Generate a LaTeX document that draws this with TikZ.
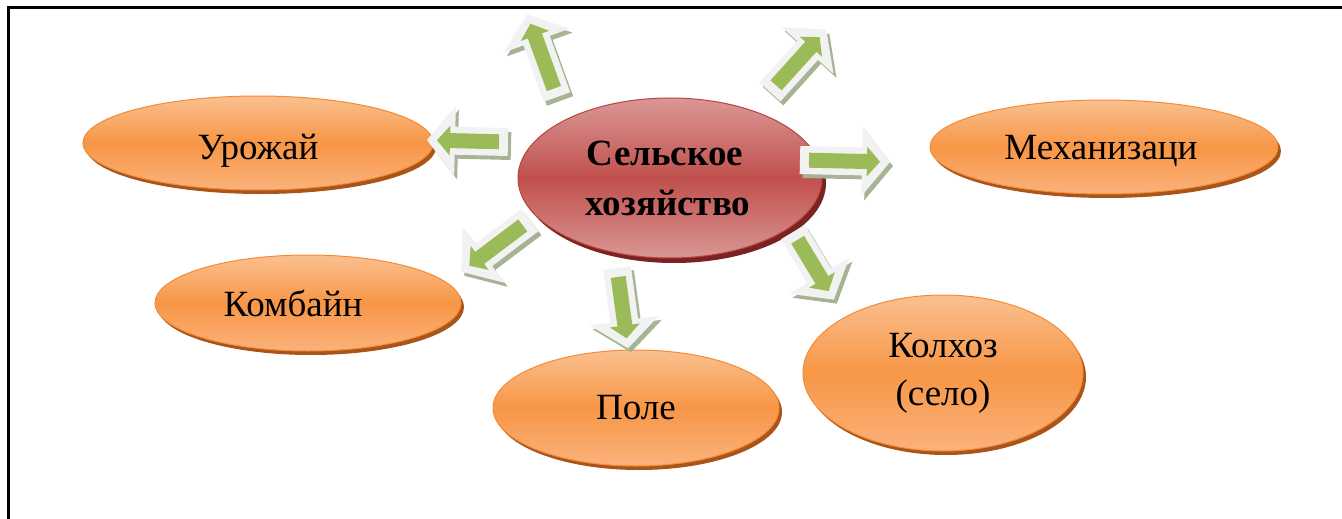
\documentclass[tikz,border=0pt]{standalone}
\usepackage{fontspec}
\setmainfont{Liberation Serif}
\usetikzlibrary{shapes.geometric,shadows}
\definecolor{orTop}{HTML}{FAC090}
\definecolor{orMid}{HTML}{F79646}
\definecolor{orBot}{HTML}{FBB27C}
\definecolor{orEdge}{HTML}{F38B35}
\definecolor{orShadow}{HTML}{A9551A}
\definecolor{rdTop}{HTML}{DA9896}
\definecolor{rdMid}{HTML}{C0504D}
\definecolor{rdBot}{HTML}{D99694}
\definecolor{rdEdge}{HTML}{B9433F}
\definecolor{rdShadow}{HTML}{7A2320}
\definecolor{arGreen}{HTML}{9BBB59}
\definecolor{arWhite}{HTML}{F2F2F2}
\definecolor{arShadow}{HTML}{A6B394}
\tikzset{
  ovalbase/.style={ellipse, inner sep=0pt, line width=1pt, align=center},
  oval/.style={ovalbase, top color=orTop, bottom color=orBot, middle color=orMid, draw=orEdge,
    drop shadow={shadow xshift=3pt, shadow yshift=-4pt, fill=orShadow, opacity=1},
    font=\fontsize{37}{48}\selectfont},
  hub/.style={ovalbase, top color=rdTop, bottom color=rdBot, middle color=rdMid, draw=rdEdge,
    drop shadow={shadow xshift=4pt, shadow yshift=-5pt, fill=rdShadow, opacity=1},
    font=\bfseries\fontsize{37}{50}\selectfont},
  frameline/.style={line width=3pt, black},
}
% #1 name, #2 x, #3 y (image), #4 angle, #5 length
\newcommand\blockarr[5]{%
  \coordinate (#1) at (#2,-#3);
  \begin{scope}[shift={(#1)}, xshift=3pt, yshift=-4pt, rotate=#4]
    \fill[arShadow] (0,-14) -- ({#5-28},-14) -- ({#5-28},-35) -- (#5,0) -- ({#5-28},35) -- ({#5-28},14) -- (0,14) -- cycle;
  \end{scope}
  \begin{scope}[shift={(#1)}, rotate=#4]
    \fill[arWhite] (0,-14) -- ({#5-28},-14) -- ({#5-28},-35) -- (#5,0) -- ({#5-28},35) -- ({#5-28},14) -- (0,14) -- cycle;
    \fill[arGreen] (9,-7.5) -- ({#5-23},-7.5) -- ({#5-23},-15) -- ({#5-10},0) -- ({#5-23},15) -- ({#5-23},7.5) -- (9,7.5) -- cycle;
  \end{scope}}
\begin{document}
\begin{tikzpicture}[x=1pt,y=1pt]
\useasboundingbox (0,0) rectangle (1342,-519);
\coordinate (fTL) at (8,-8);
\coordinate (fTR) at (1342,-8);
\coordinate (fBL) at (8,-519);
\draw[frameline] (fTR) -- (fTL) -- (fBL);

\node[oval, minimum width=350pt, minimum height=94pt] (urozhay) at (258,-143) {\raisebox{-8pt}[\height][\depth]{Урожай}};
\node[oval, minimum width=348pt, minimum height=94pt] (mech) at (1104,-147) {\raisebox{-4pt}[\height][\depth]{Механизаци\hspace*{6pt}}};
\node[oval, minimum width=306pt, minimum height=96pt] (kombain) at (308,-303) {Комбайн\hspace*{30pt}};
\node[oval, minimum width=286pt, minimum height=116pt] (pole) at (636,-408) {Поле};
\node[oval, minimum width=280pt, minimum height=156pt] (kolkhoz) at (943,-373) {Колхоз\\(село)};
\node[hub, minimum width=304pt, minimum height=160pt] (hub) at (670,-178) {Сельское\hspace*{10pt}\\хозяйство\hspace*{4pt}};

\blockarr{a1}{557}{97}{109.9}{88}
\blockarr{a2}{770}{92}{47.9}{84}
\blockarr{a3}{508}{142}{178.6}{81}
\blockarr{a4}{800}{160}{-1.3}{90}
\blockarr{a5}{530}{220}{217}{86}
\blockarr{a6}{617}{268}{-82.2}{81}
\blockarr{a7}{793}{232}{-58.9}{79}
\end{tikzpicture}
\end{document}
